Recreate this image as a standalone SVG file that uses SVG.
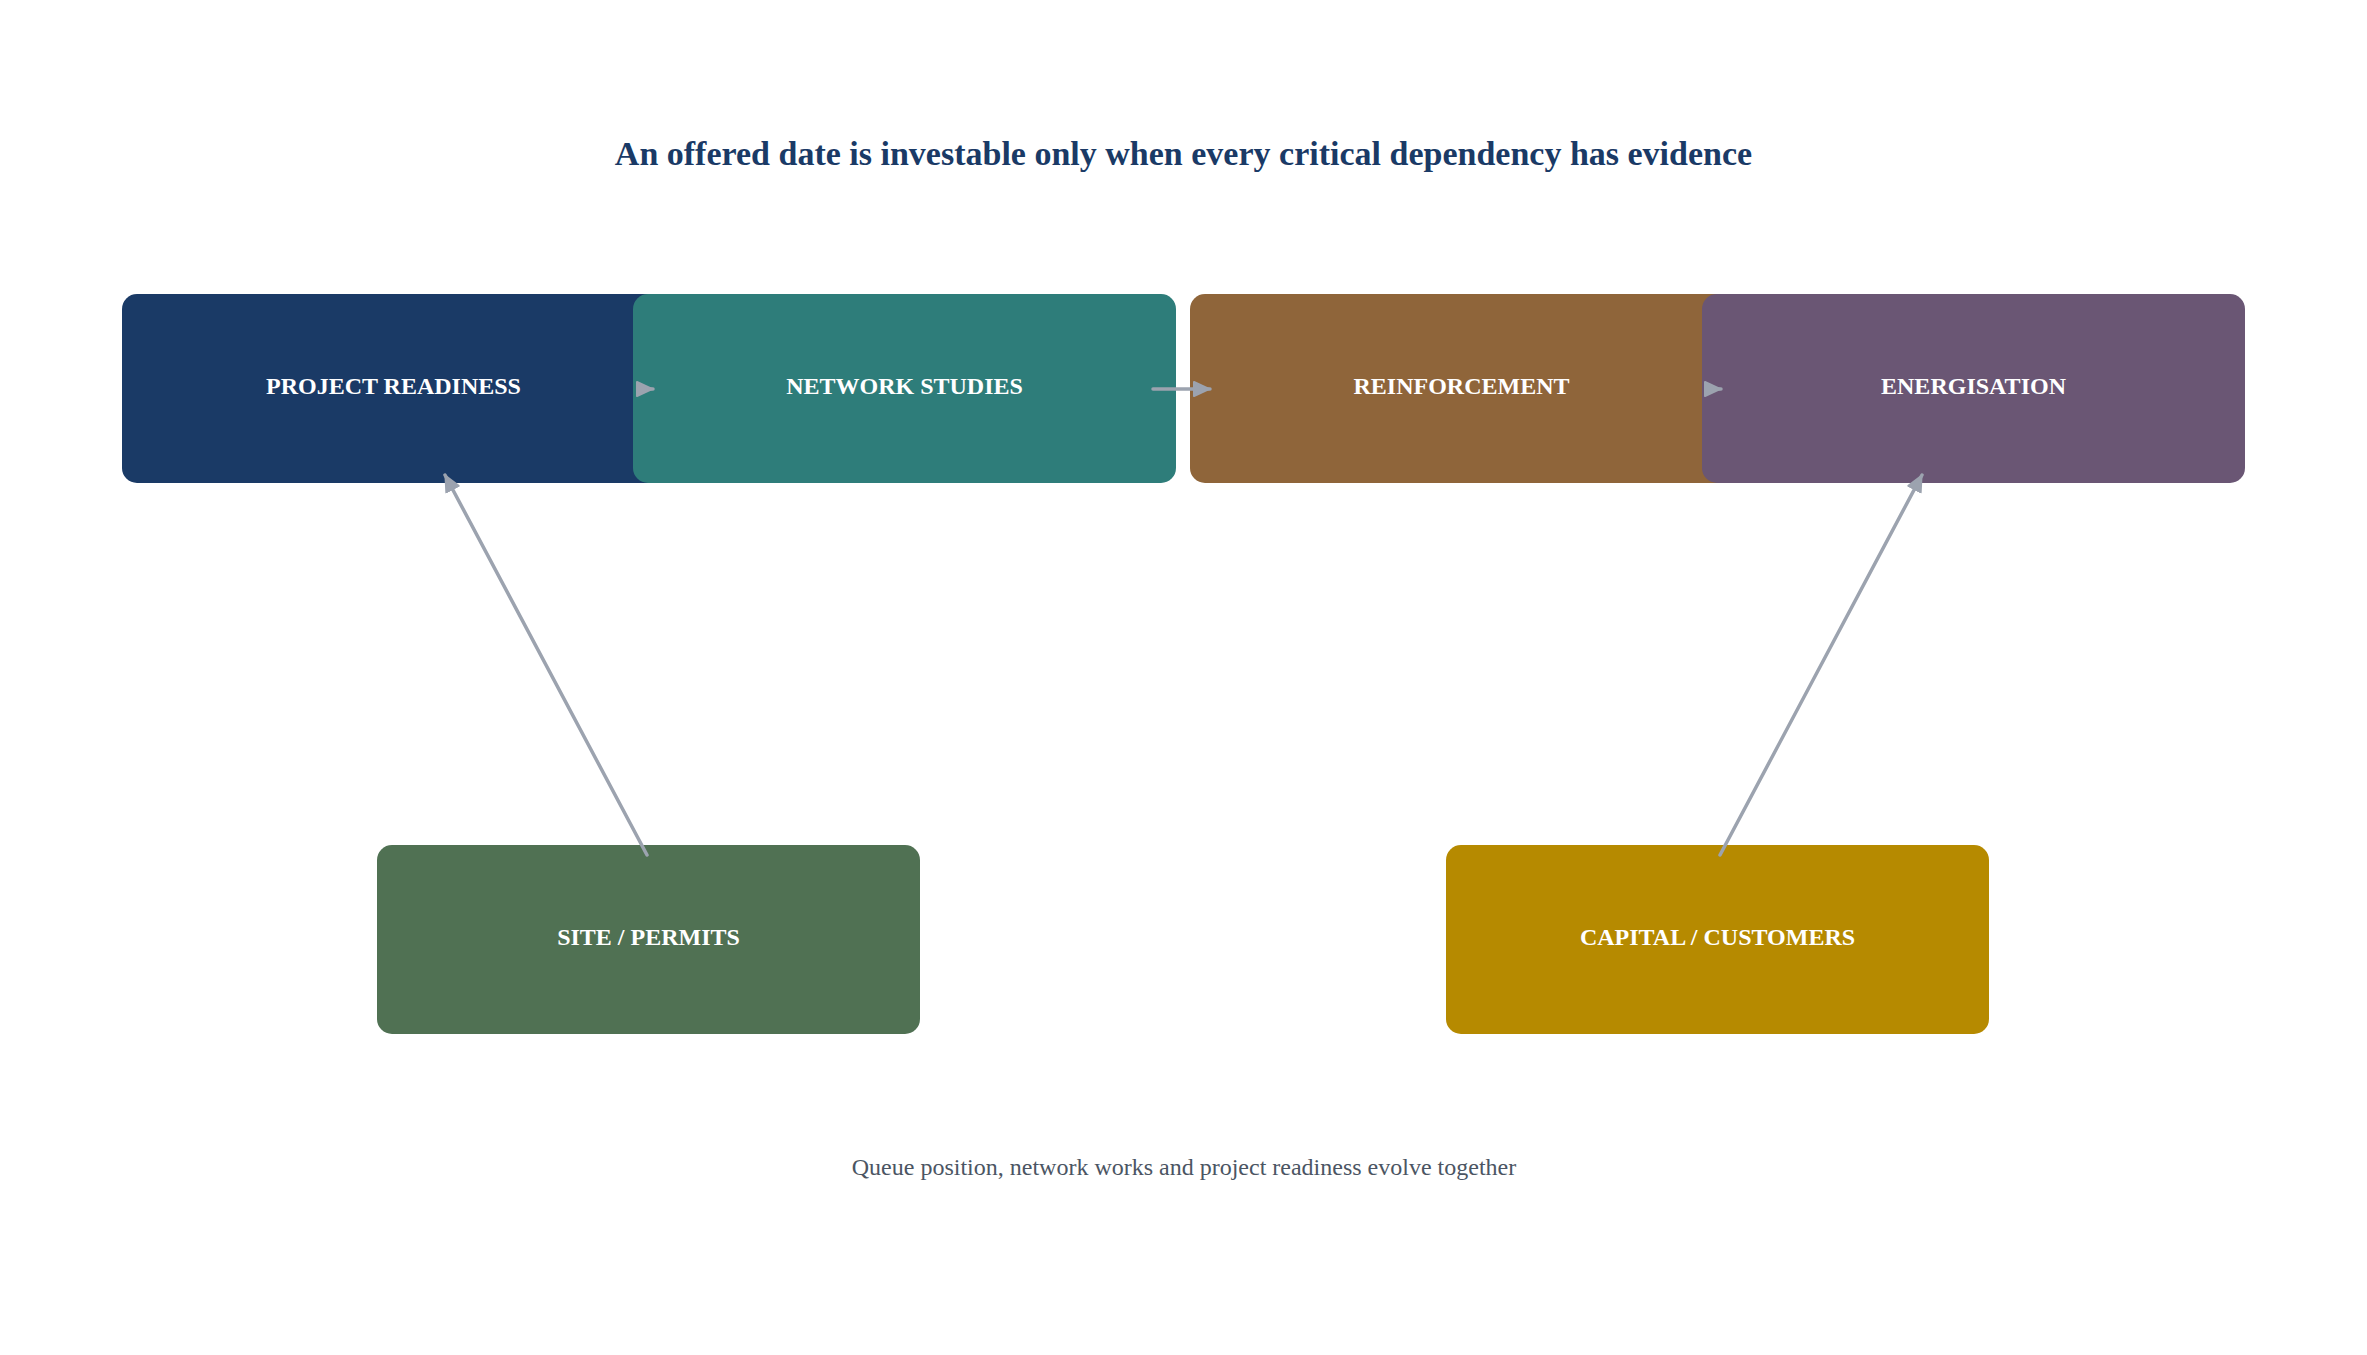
<svg xmlns="http://www.w3.org/2000/svg" width="2367" height="1355" viewBox="0 0 2367 1355">
  <style>
    .node rect { rx: 15; ry: 15; }
    .label { font-family: "Liberation Serif", "Times New Roman", serif; font-weight: bold; font-size: 24px; fill: #ffffff; text-anchor: middle; }
    .title { font-family: "Liberation Serif", "Times New Roman", serif; font-weight: bold; font-size: 34px; fill: #1a3a66; text-anchor: middle; }
    .footer { font-family: "Liberation Serif", "Times New Roman", serif; font-size: 24px; fill: #4b5563; text-anchor: middle; }
    .edge { stroke: #9ca3af; stroke-width: 3.5; fill: none; stroke-linecap: round; marker-end: url(#arrow); }
  </style>
  <defs>
    <marker id="arrow" markerUnits="userSpaceOnUse" markerWidth="18" markerHeight="18" refX="17" refY="8" orient="auto" viewBox="0 0 18 16">
      <path d="M1,1 L16,8 L1,15 Z" fill="#9ca3af" stroke="#9ca3af" stroke-width="2" stroke-linejoin="round"/>
    </marker>
  </defs>
  <rect width="2367" height="1355" fill="#ffffff"/>
  <text class="title" x="1183.5" y="165">An offered date is investable only when every critical dependency has evidence</text>

  <g id="node-project-readiness" class="node">
    <rect x="122" y="294" width="543" height="189" fill="#1a3a66"/>
    <text class="label" x="393.5" y="394">PROJECT READINESS</text>
  </g>
  <g id="node-network-studies" class="node">
    <rect x="633" y="294" width="543" height="189" fill="#2e7d7a"/>
    <text class="label" x="904.5" y="394">NETWORK STUDIES</text>
  </g>
  <g id="node-reinforcement" class="node">
    <rect x="1190" y="294" width="543" height="189" fill="#8f653a"/>
    <text class="label" x="1461.5" y="394">REINFORCEMENT</text>
  </g>
  <g id="node-energisation" class="node">
    <rect x="1702" y="294" width="543" height="189" fill="#6a5674"/>
    <text class="label" x="1973.5" y="394">ENERGISATION</text>
  </g>
  <g id="node-site-permits" class="node">
    <rect x="377" y="845" width="543" height="189" fill="#507153"/>
    <text class="label" x="648.5" y="945">SITE / PERMITS</text>
  </g>
  <g id="node-capital-customers" class="node">
    <rect x="1446" y="845" width="543" height="189" fill="#b68a00"/>
    <text class="label" x="1717.5" y="945">CAPITAL / CUSTOMERS</text>
  </g>

  <g id="connectors">
    <path class="edge" d="M640,389 L653,389"/>
    <path class="edge" d="M1153,389 L1210,389"/>
    <path class="edge" d="M1708,389 L1721,389"/>
    <path class="edge" d="M647,855 L445,475"/>
    <path class="edge" d="M1720,855 L1922,475"/>
  </g>

  <text class="footer" x="1184" y="1175">Queue position, network works and project readiness evolve together</text>
</svg>
